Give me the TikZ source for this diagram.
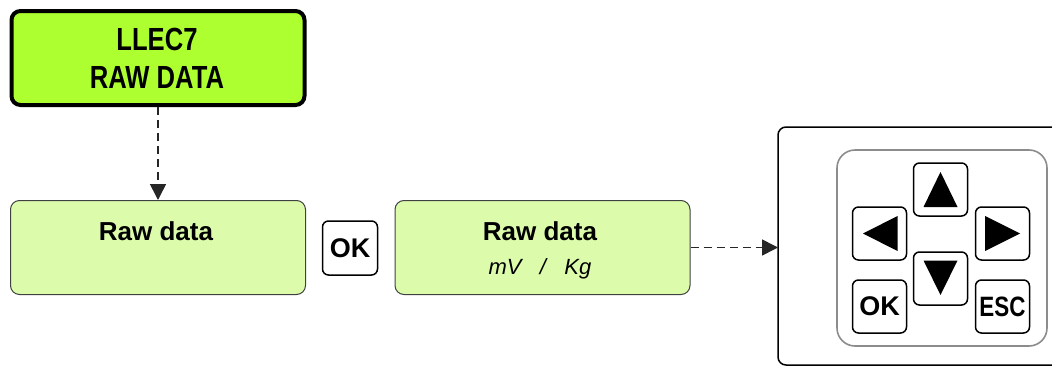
\documentclass[tikz,border=0pt]{standalone}
\usepackage{fontspec}
\setmainfont{Liberation Sans}
\newfontfamily\narrowfont[FakeStretch=0.8]{Liberation Sans}
\usepackage{tikz}
\usetikzlibrary{arrows.meta,positioning,calc}
\definecolor{menugreen}{HTML}{ADFF2F}
\definecolor{rawgreen}{HTML}{DCFCAC}
\definecolor{panelgray}{HTML}{8C8C8C}

\tikzset{
  menubox/.style={draw, line width=4pt, rounded corners=9pt, fill=menugreen,
    minimum width=293pt, minimum height=94pt, inner sep=0pt},
  rawbox/.style={draw=black!75, line width=1pt, rounded corners=9pt, fill=rawgreen,
    minimum width=295pt, minimum height=94pt, inner sep=0pt},
  keybox/.style={draw, line width=1.5pt, rounded corners=6pt, fill=white,
    minimum width=54pt, minimum height=53pt, inner sep=0pt},
  flowarrow/.style={draw=black!85, line width=1.6pt, dash pattern=on 8pt off 5pt,
    -{Triangle[length=16pt, width=16pt]}},
  bigtext/.style={inner sep=0pt, anchor=base, font=\narrowfont\bfseries\fontsize{32}{34}\selectfont},
  rawtext/.style={inner sep=0pt, anchor=base, font=\bfseries\fontsize{26}{28}\selectfont},
  unittext/.style={inner sep=0pt, anchor=base, font=\itshape\fontsize{22}{24}\selectfont},
  keytext/.style={font=\bfseries\fontsize{27}{29}\selectfont},
  esctext/.style={font=\narrowfont\bfseries\fontsize{28}{30}\selectfont}
}

\begin{document}
\begin{tikzpicture}[x=1pt, y=-1pt]
  \useasboundingbox (0,0) rectangle (1052,367);

  % Menu title
  \node[menubox] (menu) at (158,58) {};
  \node[bigtext] (menul1) at (157,50) {LLEC7};
  \node[bigtext] (menul2) at (157,88) {RAW DATA};

  % Raw data screens
  \node[rawbox] (rawA) at (158,247.5) {};
  \node[rawtext] (rawAtxt) at (156,240) {Raw data};
  \node[keybox, keytext, minimum width=55pt, minimum height=54pt] (okkey) at (350,248) {OK};
  \node[rawbox] (rawB) at (542.5,247.5) {};
  \node[rawtext] (rawBtxt) at (540,240) {Raw data};
  \node[unittext] (rawBunit) at (540,274) {mV\ \ \ /\ \ \ Kg};

  \draw[flowarrow] (menu.south) -- (rawA.north);

  % Keypad panel
  \coordinate (panelin) at (778,247.5);
  \draw[line width=1.5pt, rounded corners=8pt] (1060,127) -- (778,127) -- (778,365) -- (1060,365);
  \draw[panelgray, line width=1.6pt, rounded corners=18pt] (837,150) rectangle (1047,346);
  \draw[flowarrow] (rawB.east) -- (panelin);

  \node[keybox] (kup) at (940.5,189.5) {};
  \node[keybox] (kleft) at (879.5,233.5) {};
  \node[keybox] (kright) at (1002.5,233.5) {};
  \node[keybox] (kdown) at (940.5,278.5) {};
  \node[keybox, keytext] (kok) at (879.5,306.5) {OK};
  \node[keybox, esctext] (kesc) at (1002.5,306.5) {ESC};

  \fill ($(kup)+(0,-17.5)$) -- ($(kup)+(17,17.5)$) -- ($(kup)+(-17,17.5)$) -- cycle;
  \fill ($(kdown)+(0,16.5)$) -- ($(kdown)+(17,-18)$) -- ($(kdown)+(-17,-18)$) -- cycle;
  \fill ($(kleft)+(-16.5,0)$) -- ($(kleft)+(18,-17.5)$) -- ($(kleft)+(18,17.5)$) -- cycle;
  \fill ($(kright)+(17.5,0)$) -- ($(kright)+(-17.5,-17.5)$) -- ($(kright)+(-17.5,17.5)$) -- cycle;
\end{tikzpicture}
\end{document}
